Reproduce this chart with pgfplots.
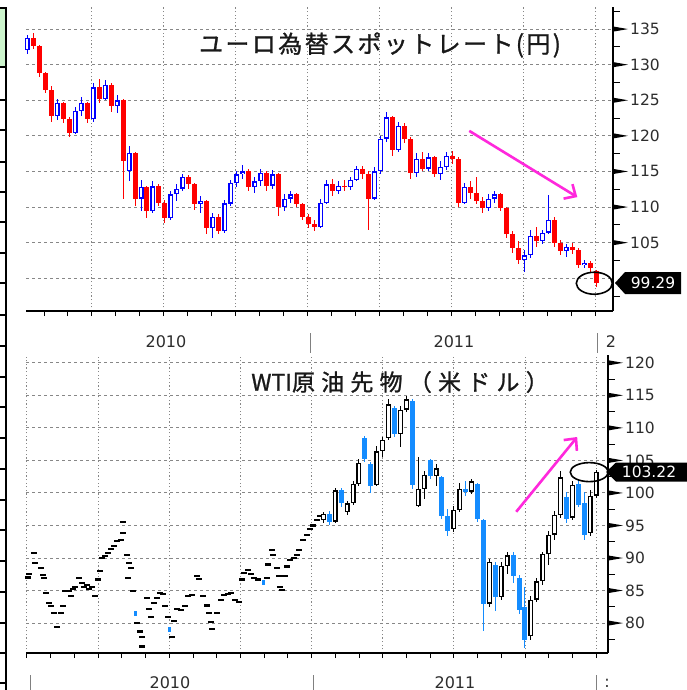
\documentclass[border=0pt]{standalone}
\usepackage{fontspec}
\setmainfont{DejaVu Sans}
\newfontfamily\cjk{Noto Sans CJK JP}[FakeBold=1.1]
\usepackage{pgfplots}
\pgfplotsset{compat=1.18}
\usepackage{pgfplotstable}
\usetikzlibrary{arrows.meta}

\definecolor{tred}{RGB}{255,0,0}
\definecolor{tblue}{RGB}{0,0,255}
\definecolor{wblue}{RGB}{20,140,255}
\definecolor{mag}{RGB}{255,40,220}
\definecolor{gridc}{RGB}{135,135,135}
\definecolor{lgreen}{RGB}{205,245,205}
\definecolor{labc}{RGB}{45,45,45}

% EUR/JPY weekly candles: x(month from Jan 2010) open high low close
\pgfplotstableread{
x o h l c
0.30 132.0 134.2 131.5 133.8
1.55 122.8 125.2 122.2 124.6
2.30 120.4 124.0 120.2 123.5
2.55 123.5 125.4 122.8 124.6
3.05 122.3 127.4 122.0 126.8
3.55 125.2 127.8 125.0 127.2
4.05 124.2 125.8 123.2 125.0
4.55 115.0 118.6 113.6 117.6
5.05 111.2 113.8 109.4 112.8
5.55 109.4 113.6 109.2 112.9
6.30 108.4 112.2 108.2 111.8
6.55 111.8 113.2 110.8 112.6
6.80 112.6 114.6 112.2 114.2
7.55 110.4 111.5 109.2 110.9
8.05 107.0 109.2 105.6 108.6
8.55 106.6 111.0 106.4 110.5
8.80 110.5 113.8 110.2 113.4
9.05 113.4 115.0 112.8 114.6
9.30 114.6 115.9 114.0 115.0
9.80 112.8 114.2 112.0 113.6
10.05 113.6 115.4 113.0 114.8
10.55 113.0 115.2 112.6 114.6
11.05 110.0 111.8 109.4 111.2
11.30 111.2 112.2 110.6 111.8
12.55 107.2 111.2 107.0 110.6
12.80 110.6 113.8 110.4 113.2
13.30 112.2 113.6 111.8 113.0
13.80 112.8 114.2 112.4 113.8
14.05 113.8 115.8 113.6 115.4
14.80 111.2 115.6 111.0 115.0
15.05 115.0 120.0 114.6 119.6
15.30 119.6 123.4 119.2 122.6
15.80 118.0 122.0 117.8 121.4
16.55 114.8 117.6 114.2 116.8
17.05 115.4 117.6 115.0 117.0
17.55 114.6 116.4 113.8 115.6
17.80 115.6 117.8 115.2 117.2
18.55 110.6 113.4 110.4 112.8
19.55 109.8 111.8 109.4 111.2
19.80 111.2 112.2 110.6 111.8
21.05 102.6 104.0 100.9 103.2
21.30 103.2 106.8 102.8 106.0
21.80 105.2 106.8 104.8 106.4
22.05 106.4 111.7 106.2 108.2
22.80 103.8 104.8 103.0 104.4
23.55 101.8 102.6 101.4 102.2
}\topup
\pgfplotstableread{
x o h l c
0.55 133.8 134.5 132.2 132.6
0.80 132.6 132.8 128.3 128.8
1.05 128.8 129.0 126.0 126.5
1.30 126.5 127.0 122.0 122.8
1.80 124.6 124.8 121.8 122.4
2.05 122.4 122.6 119.8 120.4
2.80 124.6 124.8 121.8 122.3
3.30 126.8 128.0 124.6 125.2
3.80 127.2 127.4 123.4 124.2
4.30 125.0 125.2 111.2 116.5
4.80 117.6 117.8 110.2 111.2
5.30 112.8 113.0 108.5 109.4
5.80 112.9 113.2 110.2 110.6
6.05 110.6 111.0 107.8 108.4
7.05 114.2 114.5 112.6 113.2
7.30 113.2 113.4 109.6 110.4
7.80 110.9 111.0 106.2 107.0
8.30 108.6 109.0 106.2 106.6
9.55 115.0 115.3 112.2 112.8
10.30 114.8 115.0 112.2 113.0
10.80 114.6 114.8 108.8 110.0
11.55 111.8 112.0 110.0 110.4
11.80 110.4 110.6 108.2 108.6
12.05 108.6 109.0 107.0 107.6
12.30 107.6 108.2 106.7 107.2
13.05 113.2 114.0 111.6 112.2
13.55 113.0 113.8 112.2 112.8
14.30 115.4 115.8 114.0 114.6
14.55 114.6 115.0 106.8 111.2
15.55 122.6 122.8 117.2 118.0
16.05 121.4 121.8 119.0 119.6
16.30 119.6 119.8 114.0 114.8
16.80 116.8 117.8 115.0 115.4
17.30 117.0 117.2 114.2 114.6
18.05 117.2 117.9 116.0 116.8
18.30 116.8 117.0 110.0 110.6
18.80 112.8 113.6 111.2 112.0
19.05 112.0 114.2 110.4 110.8
19.30 110.8 111.4 109.2 109.8
20.05 111.8 112.0 109.4 109.8
20.30 109.8 110.0 105.6 106.2
20.55 106.2 106.6 103.6 104.2
20.80 104.2 105.2 102.0 102.6
21.55 106.0 107.2 104.4 105.2
22.30 108.2 108.6 104.4 105.0
22.55 105.0 105.4 103.2 103.8
23.05 104.4 105.0 103.4 104.0
23.30 104.0 104.2 101.4 101.8
23.80 102.2 102.4 100.8 101.4
24.05 101.0 101.2 98.8 99.3
}\topdown

% WTI candles
\pgfplotstableread{
x o h l c
12.50 95.8 97.0 95.4 96.8
13.00 95.6 100.8 95.4 100.4
13.50 97.0 98.8 96.6 98.4
13.75 98.4 101.8 98.2 101.4
14.00 101.4 105.2 101.0 104.6
14.75 101.2 107.2 101.0 106.4
15.00 106.4 108.6 105.6 108.2
15.25 108.4 114.4 108.2 113.6
15.75 109.0 113.4 107.0 112.8
16.00 112.8 114.9 112.4 114.4
16.50 98.0 105.6 97.8 100.6
16.75 100.6 103.4 99.0 102.8
17.25 102.6 104.4 101.0 103.8
18.00 94.4 98.0 94.0 97.4
18.25 97.4 101.6 97.0 100.6
18.75 100.2 102.2 99.8 101.8
19.50 83.0 89.8 82.4 89.4
20.00 84.0 89.4 83.6 88.8
20.25 88.8 90.9 87.6 90.4
21.25 78.0 84.2 77.4 83.6
21.50 83.6 87.0 83.2 86.4
21.75 86.4 91.0 85.8 90.6
22.00 90.6 94.2 89.0 93.6
22.25 93.6 97.2 92.8 96.6
22.50 96.6 103.3 96.2 102.4
23.00 96.2 101.8 95.8 101.2
23.75 93.8 100.4 93.4 99.6
24.00 99.6 103.6 99.2 103.2
}\botup
\pgfplotstableread{
x o h l c
12.75 96.8 97.2 95.0 95.6
13.25 100.4 100.8 97.8 98.4
14.25 108.4 108.8 104.8 105.2
14.50 104.4 104.8 100.0 101.0
15.50 113.0 113.4 108.6 109.0
16.25 114.2 114.4 100.6 101.2
17.00 105.0 105.2 102.2 102.6
17.50 102.4 102.6 96.0 96.4
17.75 96.4 97.6 93.4 94.2
18.50 100.6 101.8 99.6 100.2
19.00 101.4 101.6 95.6 96.0
19.25 95.8 96.0 78.8 83.0
19.75 89.0 89.4 81.8 84.0
20.50 90.4 90.9 86.2 87.2
20.75 87.0 87.4 81.4 82.0
21.00 82.4 85.6 76.2 77.4
22.75 99.4 100.2 95.4 96.0
23.25 101.4 102.0 97.8 98.2
23.50 98.4 100.2 92.8 93.6
}\botdown
\pgfplotstableread{
x y
0.06 87.0
0.08 87.6
0.31 90.8
0.34 89.2
0.58 88.5
0.66 87.4
0.73 86.9
0.80 84.6
0.93 83.1
1.00 82.6
1.14 81.6
1.28 79.4
1.42 81.5
1.50 82.6
1.62 84.9
1.76 84.9
1.87 84.1
1.93 85.2
2.04 85.6
2.19 86.9
2.31 86.2
2.42 85.6
2.55 85.9
2.63 85.2
2.74 85.6
2.88 84.2
3.01 86.7
3.08 88.0
3.15 90.0
3.29 90.3
3.43 90.8
3.54 91.4
3.68 91.8
3.81 92.6
3.95 92.8
4.04 93.9
4.06 95.6
4.21 90.5
4.26 86.9
4.29 89.2
4.37 88.5
4.49 84.9
4.63 80.0
4.77 78.7
4.84 77.9
4.85 76.4
5.05 83.8
5.13 82.1
5.22 81.0
5.36 83.1
5.47 83.8
5.61 84.6
5.75 84.4
5.84 82.6
5.96 81.0
6.10 77.9
6.20 80.3
6.32 82.1
6.48 82.0
6.68 82.6
6.77 84.1
6.95 84.3
7.16 87.3
7.24 86.8
7.44 84.2
7.58 82.7
7.69 81.5
7.75 80.1
7.81 79.1
8.00 81.5
8.17 83.5
8.31 84.3
8.48 84.5
8.62 84.6
8.76 83.5
8.93 83.3
9.06 86.7
9.16 87.7
9.30 88.2
9.44 87.6
9.58 86.9
9.76 86.7
10.11 86.9
10.18 89.0
10.32 91.3
10.39 90.5
10.53 88.5
10.62 87.2
10.68 85.6
10.76 85.1
10.90 87.2
10.98 88.7
11.10 89.7
11.24 90.0
11.38 90.5
11.46 91.3
11.66 92.8
11.80 93.6
11.94 94.4
12.08 95.0
12.22 95.9
12.36 96.4
}\botdash
\pgfplotstableread{
x y
4.56 81.5
6.03 79.0
9.97 86.2
}\botbluedash

\pgfplotsset{
  eb/.style 2 args={draw=none, forget plot,
    error bars/y dir=both, error bars/y explicit, error bars/error mark=none,
    error bars/error bar style={draw=#1, line width=#2, solid}},
  panel/.style={scale only axis, clip=false,
    axis x line*=bottom, axis y line*=right,
    axis line style={line width=1.3pt, black},
    tick align=outside, major tick length=5pt, minor tick length=5pt,
    xtick style={line width=0.9pt, black},
    ytick style={draw=none}, xticklabels={},
    grid=major,
    major x grid style={gridc, line width=0.9pt, dash pattern=on 1.2pt off 2.4pt},
    major y grid style={gridc, line width=0.9pt, dash pattern=on 3pt off 3pt},
    /pgf/number format/assume math mode=true,
    yticklabel style={font=\fontsize{15.5}{16}\selectfont, text=labc, anchor=west, inner sep=0pt, xshift=12pt}},
}

\begin{document}
\begin{tikzpicture}
\useasboundingbox (0,0) rectangle (686pt,-690pt);
\fill[white] (0,0) rectangle (686pt,-690pt);

% ---------- top panel ----------
\begin{axis}[panel, at={(26pt,-311pt)}, anchor=south west,
  width=587pt, height=304pt,
  xmin=0.25, xmax=24.75, ymin=95.4, ymax=138.1,
  xtick={3,6,...,24},
  minor xtick={1,2,4,5,7,8,10,11,13,14,16,17,19,20,22,23},
  ytick={100,105,...,135},
  yticklabels={,105,110,115,120,125,130,135}]
\addplot[eb={tred}{1pt}] table[x=x, y expr={(\thisrow{h}+\thisrow{l})/2}, y error expr={(\thisrow{h}-\thisrow{l})/2}] \topdown;
\addplot[eb={tblue}{1pt}] table[x=x, y expr={(\thisrow{h}+\thisrow{l})/2}, y error expr={(\thisrow{h}-\thisrow{l})/2}] \topup;
\addplot[eb={tred}{5pt}] table[x=x, y expr={(\thisrow{o}+\thisrow{c})/2}, y error expr={abs(\thisrow{c}-\thisrow{o})/2}] \topdown;
\addplot[eb={tblue}{5pt}] table[x=x, y expr={(\thisrow{o}+\thisrow{c})/2}, y error expr={abs(\thisrow{c}-\thisrow{o})/2}] \topup;
\addplot[eb={white}{2.4pt}] table[x=x, y expr={(\thisrow{o}+\thisrow{c})/2}, y error expr={max((\thisrow{c}-\thisrow{o})/2-0.18,0)}] \topup;
\pgfplotsinvokeforeach{105,110,115,120,125,130,135}{
  \fill[black] ([yshift=2.6pt]axis cs:24.75,#1) -- ([xshift=15pt]axis cs:24.75,#1) -- ([yshift=-2.6pt]axis cs:24.75,#1) -- cycle;}
\pgfplotsinvokeforeach{97.5,102.5,107.5,112.5,117.5,122.5,127.5,132.5,137.5}{
  \draw[line width=1pt] (axis cs:24.75,#1) -- ([xshift=7pt]axis cs:24.75,#1);}
\draw[black, line width=1.6pt] (axis cs:23.97,99.3) ellipse [x radius=18pt, y radius=11pt];
\draw[mag, line width=2.6pt, -{Straight Barb[length=9pt,width=17pt]}] (axis cs:18.75,120.7) -- (axis cs:23.26,111.4);
\end{axis}

% ---------- bottom panel ----------
\begin{axis}[panel, at={(26pt,-653pt)}, anchor=south west,
  width=582pt, height=298pt,
  xmin=-0.04, xmax=24.5, ymin=75.4, ymax=121.2,
  xtick={0,3,...,24},
  minor xtick={1,2,4,5,7,8,10,11,13,14,16,17,19,20,22,23},
  ytick={80,85,...,120}]
\addplot[eb={black}{6pt}] table[x=x, y=y, y error expr={0.16}] \botdash;
\addplot[eb={wblue}{3pt}] table[x=x, y=y, y error expr={0.4}] \botbluedash;
\addplot[eb={wblue}{1pt}] table[x=x, y expr={(\thisrow{h}+\thisrow{l})/2}, y error expr={(\thisrow{h}-\thisrow{l})/2}] \botdown;
\addplot[eb={black}{1pt}] table[x=x, y expr={(\thisrow{h}+\thisrow{l})/2}, y error expr={(\thisrow{h}-\thisrow{l})/2}] \botup;
\addplot[eb={wblue}{5pt}] table[x=x, y expr={(\thisrow{o}+\thisrow{c})/2}, y error expr={abs(\thisrow{c}-\thisrow{o})/2}] \botdown;
\addplot[eb={black}{5pt}] table[x=x, y expr={(\thisrow{o}+\thisrow{c})/2}, y error expr={abs(\thisrow{c}-\thisrow{o})/2}] \botup;
\addplot[eb={white}{2.4pt}] table[x=x, y expr={(\thisrow{o}+\thisrow{c})/2}, y error expr={max((\thisrow{c}-\thisrow{o})/2-0.2,0)}] \botup;
\pgfplotsinvokeforeach{80,85,90,95,100,105,110,115,120}{
  \fill[black] ([yshift=2.6pt]axis cs:24.5,#1) -- ([xshift=15pt]axis cs:24.5,#1) -- ([yshift=-2.6pt]axis cs:24.5,#1) -- cycle;}
\pgfplotsinvokeforeach{77.5,82.5,87.5,92.5,97.5,102.5,107.5,112.5,117.5}{
  \draw[line width=1pt] (axis cs:24.5,#1) -- ([xshift=7pt]axis cs:24.5,#1);}
\draw[black, line width=1.6pt] (axis cs:23.71,103.2) ellipse [x radius=19pt, y radius=9.5pt];
\draw[mag, line width=2.6pt, -{Straight Barb[length=9pt,width=17pt]}] (axis cs:20.63,97.1) -- (axis cs:23.2,108.6);
\end{axis}

% ---------- last-value tags ----------
\fill[black] (615pt,-283pt) -- (625pt,-272pt) -- (681pt,-272pt) -- (681pt,-294pt) -- (625pt,-294pt) -- cycle;
\node[text=white, font=\fontsize{15.5}{16}\selectfont] at (653pt,-283pt) {99.29};
\fill[black] (606pt,-472pt) -- (616pt,-462.5pt) -- (688pt,-462.5pt) -- (688pt,-481.5pt) -- (616pt,-481.5pt) -- cycle;
\node[text=white, font=\fontsize{15.5}{16}\selectfont] at (649pt,-472pt) {103.22};

% ---------- titles ----------
\node[text=black!90] at (380pt,-45pt) {\cjk\fontsize{24}{24}\selectfont\addfontfeature{LetterSpace=10}ユーロ為替スポットレート(円)};
\node[text=black!90] at (400pt,-382pt) {\cjk\fontsize{23}{23}\selectfont WTI\addfontfeature{LetterSpace=27}原油先物（米ドル）};

% ---------- year labels ----------
\begin{scope}[font=\fontsize{16}{16}\selectfont, text=labc]
\node at (166pt,-342pt) {2010};
\node at (454pt,-342pt) {2011};
\node at (611pt,-342pt) {2};
\node at (170pt,-683pt) {2010};
\node at (455pt,-683pt) {2011};
\node at (607pt,-683pt) {:};
\end{scope}
\draw[gray, line width=1pt] (310pt,-333pt) -- (310pt,-353pt);
\draw[gray, line width=1pt] (597pt,-333pt) -- (597pt,-353pt);
\draw[gray, line width=1pt] (30pt,-675pt) -- (30pt,-690pt);
\draw[gray, line width=1pt] (313pt,-675pt) -- (313pt,-690pt);
\draw[gray, line width=1pt] (596pt,-675pt) -- (596pt,-690pt);

% ---------- left frame remnant ----------
\fill[lgreen] (0,-8pt) rectangle (5pt,-67pt);
\draw[line width=2.4pt] (6pt,-8pt) -- (6pt,-690pt);
\foreach \yy in {8,67,100,130,162,192,222,253,283,315,346,377,407,438,469,500,530,561,592,623,653,683}
  \draw[line width=2.4pt] (0,{-\yy*1pt}) -- (7pt,{-\yy*1pt});
\end{tikzpicture}
\end{document}
